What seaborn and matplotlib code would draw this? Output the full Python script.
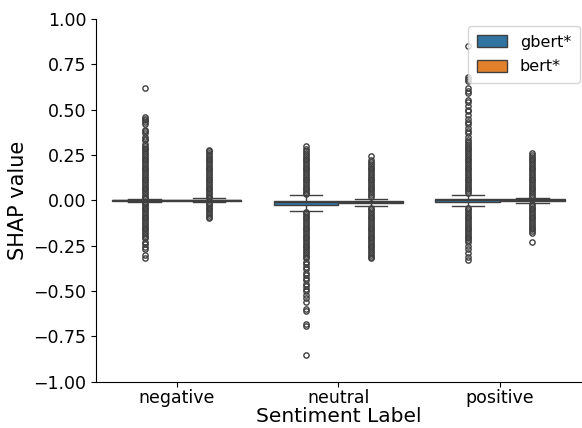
import numpy as np
import pandas as pd
import matplotlib
matplotlib.use("Agg")
import matplotlib.pyplot as plt
import seaborn as sns

labels = ["negative", "neutral", "positive"]
models = ["gbert*", "bert*"]

# box statistics: [whisker_low, q1, median, q3, whisker_high]
stats_neg_gbert = [-0.0075, -0.002, 0.000, 0.002, 0.0075]
stats_neg_bert = [-0.012, -0.003, 0.000, 0.003, 0.012]
stats_neu_gbert = [-0.058, -0.027, -0.012, -0.004, 0.028]
stats_neu_bert = [-0.031, -0.016, -0.008, -0.004, 0.009]
stats_pos_gbert = [-0.031, -0.008, 0.002, 0.008, 0.030]
stats_pos_bert = [-0.016, -0.004, 0.000, 0.005, 0.015]

# outliers
out_neg_gbert = [0.01, 0.015, 0.02, 0.03, 0.04, 0.05, 0.06, 0.07, 0.08, 0.09, 0.10, 0.11, 0.12,
                 0.13, 0.14, 0.15, 0.16, 0.17, 0.18, 0.19, 0.20, 0.21, 0.22, 0.23, 0.24,
                 0.25, 0.26, 0.27, 0.28, 0.29, 0.30, 0.31, 0.33, 0.34, 0.35, 0.37, 0.38,
                 0.39, 0.42, 0.43, 0.44, 0.45, 0.46, 0.62,
                 -0.01, -0.015, -0.02, -0.03, -0.04, -0.05, -0.06, -0.07, -0.08, -0.09, -0.10,
                 -0.11, -0.12, -0.13, -0.14, -0.15, -0.16, -0.17, -0.18, -0.19, -0.20,
                 -0.21, -0.23, -0.24, -0.26, -0.27, -0.30, -0.32]
out_neg_bert = [0.015, 0.02, 0.03, 0.04, 0.05, 0.06, 0.07, 0.08, 0.09, 0.10, 0.11, 0.12,
                0.13, 0.14, 0.15, 0.16, 0.17, 0.18, 0.19, 0.20, 0.21, 0.22, 0.23, 0.24,
                0.25, 0.26, 0.27, 0.275,
                -0.015, -0.02, -0.03, -0.04, -0.05, -0.06, -0.07, -0.08, -0.09, -0.095]
out_neu_gbert = [0.035, 0.04, 0.05, 0.06, 0.07, 0.08, 0.09, 0.10, 0.11, 0.12, 0.13, 0.14,
                 0.15, 0.16, 0.17, 0.18, 0.19, 0.20, 0.21, 0.22, 0.23, 0.24, 0.25, 0.26,
                 0.27, 0.28, 0.30,
                 -0.065, -0.07, -0.08, -0.09, -0.10, -0.11, -0.12, -0.13, -0.14, -0.15,
                 -0.16, -0.17, -0.18, -0.19, -0.20, -0.21, -0.22, -0.23, -0.24, -0.25,
                 -0.26, -0.27, -0.28, -0.29, -0.30, -0.31, -0.32, -0.34, -0.35, -0.37,
                 -0.38, -0.40, -0.41, -0.43, -0.44, -0.46, -0.47, -0.49, -0.50, -0.52,
                 -0.54, -0.56, -0.60, -0.61, -0.68, -0.69, -0.85]
out_neu_bert = [0.02, 0.03, 0.04, 0.05, 0.06, 0.07, 0.08, 0.09, 0.10, 0.11, 0.12, 0.13,
                0.14, 0.15, 0.16, 0.17, 0.18, 0.19, 0.20, 0.21, 0.22, 0.245,
                -0.04, -0.05, -0.06, -0.07, -0.08, -0.09, -0.10, -0.11, -0.12, -0.13,
                -0.14, -0.15, -0.16, -0.17, -0.18, -0.19, -0.20, -0.21, -0.22, -0.23,
                -0.24, -0.25, -0.26, -0.27, -0.28, -0.29, -0.30, -0.31, -0.32]
out_pos_gbert = [0.04, 0.05, 0.06, 0.07, 0.08, 0.09, 0.10, 0.11, 0.12, 0.13, 0.14, 0.15,
                 0.16, 0.17, 0.18, 0.19, 0.20, 0.21, 0.22, 0.23, 0.24, 0.25, 0.26, 0.27,
                 0.28, 0.29, 0.30, 0.31, 0.32, 0.33, 0.35, 0.37, 0.38, 0.40, 0.42, 0.43,
                 0.45, 0.47, 0.49, 0.50, 0.52, 0.54, 0.55, 0.59, 0.60, 0.62, 0.66, 0.67,
                 0.68, 0.85,
                 -0.04, -0.05, -0.06, -0.07, -0.08, -0.09, -0.10, -0.11, -0.12, -0.13,
                 -0.14, -0.15, -0.16, -0.17, -0.18, -0.19, -0.20, -0.21, -0.22, -0.23,
                 -0.25, -0.27, -0.29, -0.31, -0.33]
out_pos_bert = [0.02, 0.03, 0.04, 0.05, 0.06, 0.07, 0.08, 0.09, 0.10, 0.11, 0.12, 0.13,
                0.14, 0.15, 0.16, 0.17, 0.18, 0.19, 0.20, 0.21, 0.22, 0.23, 0.24, 0.25,
                0.26,
                -0.02, -0.03, -0.04, -0.05, -0.06, -0.07, -0.08, -0.09, -0.10, -0.11,
                -0.12, -0.13, -0.14, -0.15, -0.16, -0.17, -0.18, -0.23]

groups = {
    ("negative", "gbert*"): (stats_neg_gbert, out_neg_gbert),
    ("negative", "bert*"): (stats_neg_bert, out_neg_bert),
    ("neutral", "gbert*"): (stats_neu_gbert, out_neu_gbert),
    ("neutral", "bert*"): (stats_neu_bert, out_neu_bert),
    ("positive", "gbert*"): (stats_pos_gbert, out_pos_gbert),
    ("positive", "bert*"): (stats_pos_bert, out_pos_bert),
}

rows = []
N = 1000
for (lab, mod), (st, outs) in groups.items():
    lo, q1, med, q3, hi = st
    core = [lo, q1, q1, med, q3, q3, hi]
    vals = list(np.repeat(core, N)) + list(outs)
    for v in vals:
        rows.append((lab, mod, v))
df = pd.DataFrame(rows, columns=["label", "model", "value"])

fig = plt.figure(figsize=(5.82, 4.28), dpi=100)
ax = fig.add_axes([0.165, 0.108, 0.833, 0.848])
sns.boxplot(data=df, x="label", y="value", hue="model", order=labels,
            hue_order=models, fliersize=3.8, ax=ax)
sns.despine(ax=ax)
ax.set_ylim(-1.0, 1.0)
ax.set_yticks(np.arange(-1.0, 1.01, 0.25))
ax.set_xlabel("Sentiment Label", fontsize=14.5, labelpad=0)
ax.set_ylabel("SHAP value", fontsize=15)
ax.tick_params(axis="both", labelsize=12.5)
ax.tick_params(axis="x", pad=1.5)
h, l = ax.get_legend_handles_labels()
ax.legend(h, l, loc="upper right", fontsize=11.5, labelspacing=0.6,
          handlelength=1.9, handleheight=0.75, borderpad=0.55, borderaxespad=0,
          bbox_to_anchor=(580 / 582, 1 - 26 / 428), bbox_transform=fig.transFigure)
fig.savefig("out.png", dpi=100)
